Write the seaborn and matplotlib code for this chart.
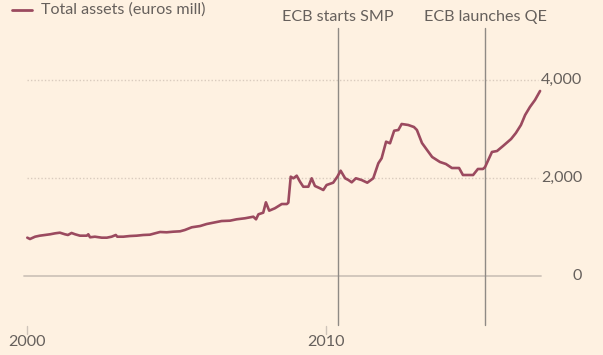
import matplotlib
matplotlib.use("Agg")
import matplotlib.pyplot as plt
import seaborn as sns
import pandas as pd

# ---- data ----
years = [2000.01, 2000.10, 2000.27, 2000.43, 2000.60, 2000.77, 2000.94, 2001.10, 2001.27, 2001.37,
         2001.49, 2001.61, 2001.77, 2002.00, 2002.05, 2002.11, 2002.27, 2002.50, 2002.67, 2002.83,
         2002.97, 2003.02, 2003.22, 2003.44, 2003.67, 2003.89, 2004.11, 2004.28, 2004.45, 2004.67,
         2004.89, 2005.12, 2005.28, 2005.51, 2005.79, 2006.01, 2006.23, 2006.51, 2006.79, 2007.01,
         2007.29, 2007.57, 2007.66, 2007.74, 2007.90, 2007.99, 2008.10, 2008.29, 2008.52, 2008.69,
         2008.74, 2008.82, 2008.91, 2009.02, 2009.13, 2009.24, 2009.41, 2009.52, 2009.63, 2009.80,
         2009.91, 2010.02, 2010.24, 2010.38, 2010.49, 2010.64, 2010.75, 2010.86, 2011.00, 2011.19,
         2011.38, 2011.58, 2011.75, 2011.86, 2012.01, 2012.14, 2012.28, 2012.42, 2012.53, 2012.75,
         2012.94, 2013.04, 2013.21, 2013.38, 2013.55, 2013.81, 2014.01, 2014.21, 2014.45, 2014.58,
         2014.92, 2015.08, 2015.25, 2015.32, 2015.55, 2015.72, 2015.92, 2016.19, 2016.35, 2016.52,
         2016.66, 2016.82, 2016.99, 2017.16]
total_assets = [782, 755, 802, 823, 837, 851, 871, 884, 851, 837,
                878, 851, 823, 823, 851, 790, 802, 782, 782, 802,
                837, 802, 802, 816, 823, 837, 843, 871, 898, 892,
                904, 912, 939, 994, 1020, 1061, 1088, 1122, 1129, 1157,
                1178, 1210, 1157, 1259, 1292, 1504, 1333, 1382, 1469, 1469,
                1496, 2027, 1994, 2047, 1925, 1822, 1822, 1994, 1837, 1790,
                1755, 1857, 1904, 2027, 2149, 1994, 1959, 1912, 1994, 1959,
                1904, 1994, 2300, 2402, 2741, 2708, 2965, 2980, 3102, 3082,
                3041, 2980, 2714, 2571, 2429, 2327, 2286, 2204, 2204, 2061,
                2061, 2184, 2184, 2224, 2531, 2551, 2653, 2796, 2918, 3082,
                3286, 3449, 3592, 3776]

series_label = "Total assets (euros mill)"
events = ["ECB starts SMP", "ECB launches QE"]
event_years = [2010.4, 2015.32]
y_ticks = [0, 2000, 4000]
y_tick_labels = ["0", "2,000", "4,000"]
x_ticks = [2000, 2010]
x_tick_labels = ["2000", "2010"]

df = pd.DataFrame({"year": years, "value": total_assets})

# ---- style ----
BG = "#FEF1E1"
LINE = "#9B4A5F"
TEXT = "#66605C"
VLINE = "#8F8A85"
ZERO = "#CFC4BA"
GRID = "#D9CBBE"
FS = 11.6

sns.set_style("white")
plt.rcParams["font.family"] = ["Lato", "DejaVu Sans"]

fig = plt.figure(figsize=(6.03, 3.55), dpi=100)
fig.patch.set_facecolor(BG)
ax = fig.add_axes([0, 0, 1, 1])
ax.set_facecolor(BG)

# pixel mapping: x px = 27 + 29.9*(t-2000); y px = 276 - 0.049*v
def tx(px):
    return 2000 + (px - 27) / 29.9

def vy(py):
    return (276 - py) / 0.049

ax.set_xlim(tx(0), tx(603))
ax.set_ylim(vy(355), vy(0))
for s in ax.spines.values():
    s.set_visible(False)
ax.set_xticks([])
ax.set_yticks([])

# gridlines
for yv in y_ticks:
    if yv == 0:
        ax.plot([tx(24), tx(541)], [0, 0], color=ZERO, lw=1.3, zorder=1)
    else:
        ax.plot([tx(27), tx(538)], [yv, yv], color=GRID, lw=1.0,
                linestyle=(0, (1, 1.5)), zorder=1)
for yv, lab in zip(y_ticks, y_tick_labels):
    ax.text(tx(582), yv, lab, ha="right", va="center", color=TEXT, fontsize=FS)

# event lines
for ev, yr in zip(events, event_years):
    ax.plot([yr, yr], [vy(28), vy(325)], color=VLINE, lw=1.0, zorder=2)
    ax.text(yr, vy(17), ev, ha="center", va="center", color=TEXT, fontsize=FS)

# x ticks
for xt, lab in zip(x_ticks, x_tick_labels):
    ax.plot([xt, xt], [vy(326), vy(334)], color=ZERO, lw=1.0)
    ax.text(xt, vy(342), lab, ha="center", va="center", color=TEXT, fontsize=FS)

# main line
sns.lineplot(data=df, x="year", y="value", ax=ax, color=LINE, linewidth=1.9,
             legend=False, zorder=3)
ax.set_xlabel("")
ax.set_ylabel("")

# legend (drawn manually at top-left)
ax.plot([tx(12), tx(32)], [vy(10), vy(10)], color=LINE, lw=2.0)
ax.text(tx(41), vy(10), series_label, ha="left", va="center", color=TEXT, fontsize=FS)

fig.savefig("out.png", dpi=100, facecolor=BG)
